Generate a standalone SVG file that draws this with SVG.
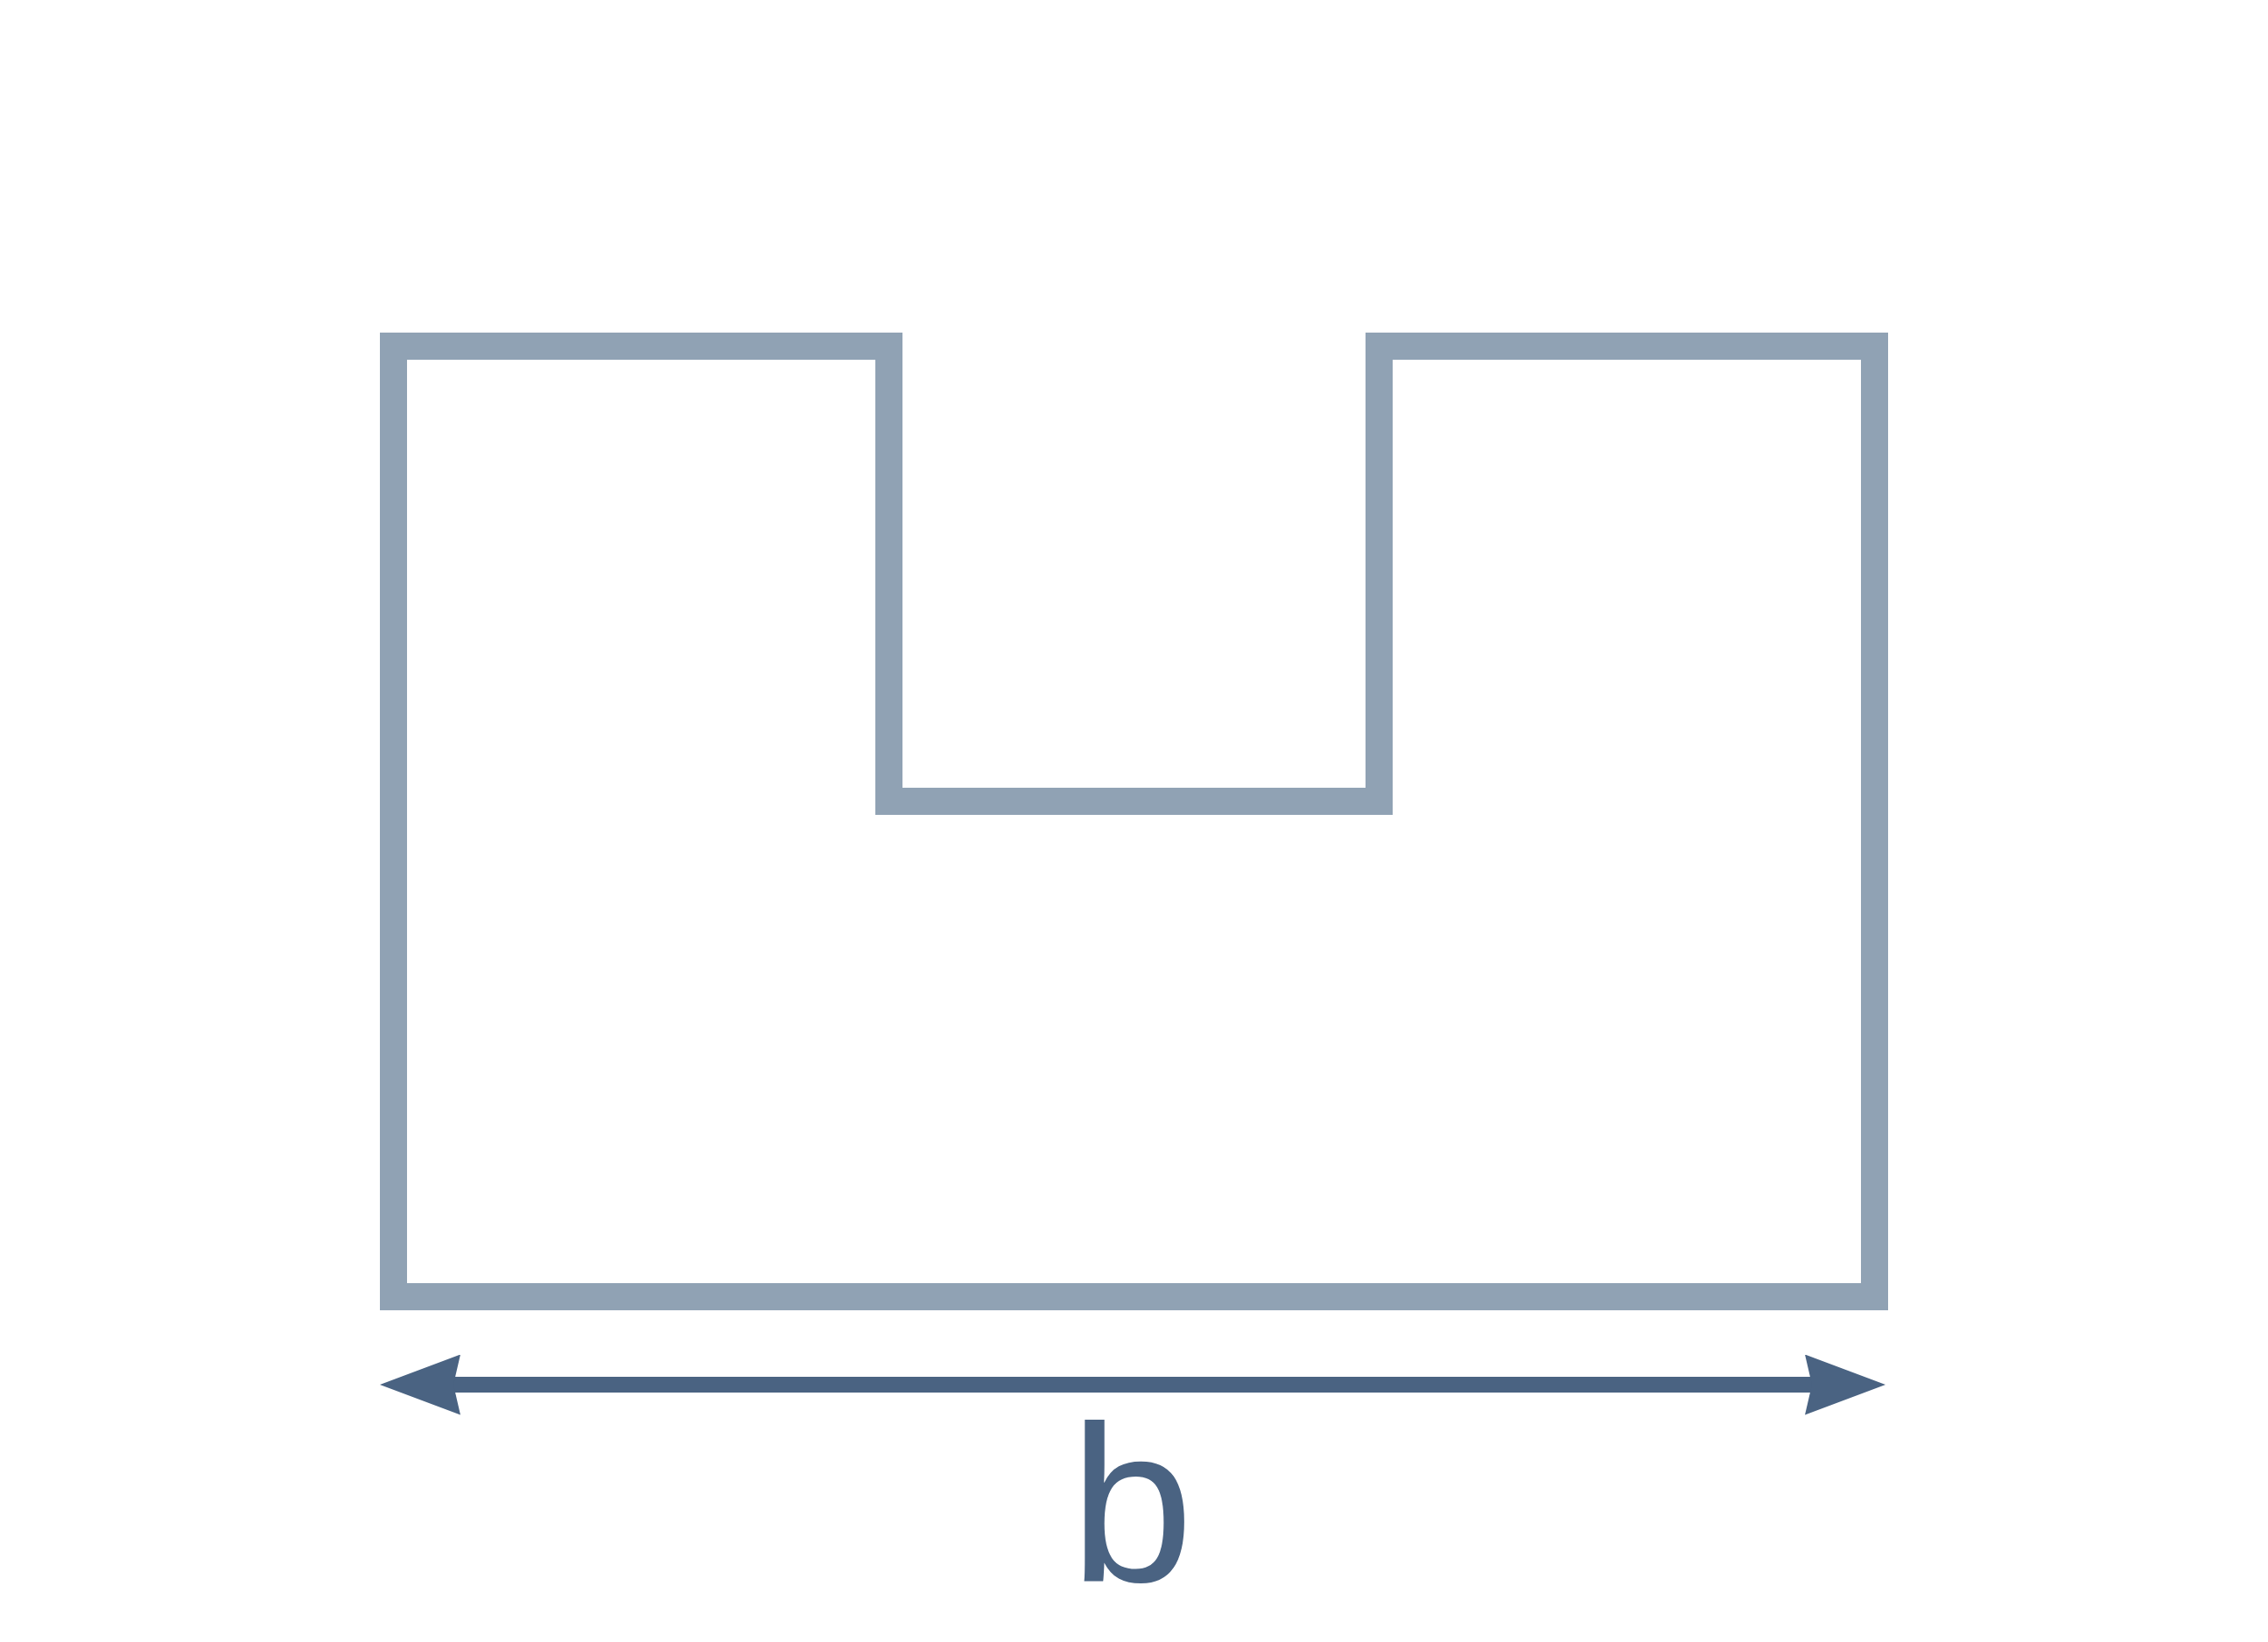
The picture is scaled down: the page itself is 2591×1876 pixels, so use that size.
<svg xmlns="http://www.w3.org/2000/svg" width="2591" height="1876" viewBox="0 0 2591 1876">
  <style>
    .outline { fill: none; stroke: #90a2b4; stroke-width: 31; stroke-linejoin: miter; }
    .dim { stroke: #4a6382; stroke-width: 18; fill: none; }
    .label { font-family: "Liberation Sans", Arial, sans-serif; font-size: 254px; fill: #4a6382; }
  </style>
  <defs>
    <marker id="arrow" viewBox="0 0 92 69" refX="8" refY="34.5" markerWidth="92" markerHeight="69" markerUnits="userSpaceOnUse" orient="auto-start-reverse">
      <path d="M0,0 L92,34.5 L0,69 L8,34.5 Z" fill="#4a6382"/>
    </marker>
  </defs>
  <rect width="2591" height="1876" fill="#ffffff"/>
  <g id="section">
    <path class="outline" d="M449.5,395.5 H1015.5 V915.5 H1575.5 V395.5 H2141.5 V1481.5 H449.5 Z"/>
  </g>
  <g id="connectors">
    <line class="dim" x1="518" y1="1582" x2="2070" y2="1582" marker-start="url(#arrow)" marker-end="url(#arrow)"/>
  </g>
  <g id="label-b">
    <text class="label" x="1293" y="1806" text-anchor="middle">b</text>
  </g>
</svg>
